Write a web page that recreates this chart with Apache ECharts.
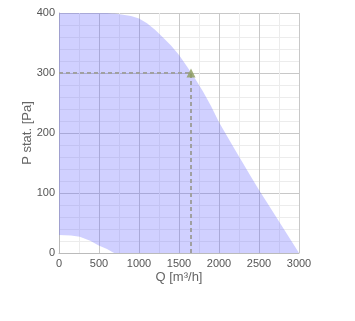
<!DOCTYPE html>
<html>
<head>
<meta charset="utf-8">
<script src="https://cdn.jsdelivr.net/npm/echarts@6/dist/echarts.min.js"></script>
<style>
  html, body { margin: 0; padding: 0; background: #fff; }
  #chart { width: 355px; height: 321px; }
</style>
</head>
<body>
<div id="chart"></div>
<script>
// flow rate points (m³/h) shared by both curves
const flowQ = [0, 150, 260, 390, 490, 600, 660, 690, 800, 900, 1000, 1100, 1200, 1300, 1400, 1500, 1600, 1700, 1800, 1900, 2000, 2200, 2400, 2500, 2600, 2800, 3000]
// upper edge of the fan range (Pa)
const upperP = [400, 400, 400, 400, 400, 400, 399, 399, 397, 395, 391, 383, 372, 359, 346, 330, 311, 291, 269, 245, 218, 172, 127, 105, 84, 42, 0]
// lower edge of the fan range (Pa)
const lowerP = [30, 29, 27, 20.5, 13, 6.5, 2, 0, 0, 0, 0, 0, 0, 0, 0, 0, 0, 0, 0, 0, 0, 0, 0, 0, 0, 0, 0]
// operating point
const opQ = 1650
const opP = 300

const xTicks = [0, 500, 1000, 1500, 2000, 2500, 3000]
const yTicks = [0, 100, 200, 300, 400]

const chart = echarts.init(document.getElementById('chart'))

const labelStyle = { color: '#555', fontSize: 11, fontFamily: 'Liberation Sans, Arial, sans-serif' }
const nameStyle = { color: '#666', fontSize: 13, fontFamily: 'Liberation Sans, Arial, sans-serif' }

// band between lower and upper edge, drawn as one polygon
const renderBand = (params, api) => {
    const top = flowQ.map((q, i) => api.coord([q, upperP[i]]))
    const bottom = flowQ.map((q, i) => api.coord([q, lowerP[i]])).reverse()
    return {
        type: 'polygon',
        shape: { points: top.concat(bottom) },
        style: { fill: 'rgba(100, 100, 255, 0.3)' },
        silent: true
    }
}

const option = {
    animation: false,
    grid: { left: 59, right: 56, top: 13, bottom: 68 },
    xAxis: {
        type: 'value',
        min: xTicks[0],
        max: xTicks[xTicks.length - 1],
        interval: xTicks[1] - xTicks[0],
        name: 'Q [m³/h]',
        nameLocation: 'middle',
        nameGap: 18,
        nameMoveOverlap: false,
        nameTextStyle: nameStyle,
        axisLine: { show: true, lineStyle: { color: '#bbb' } },
        axisTick: { show: false },
        axisLabel: Object.assign({ margin: 5, formatter: v => String(v) }, labelStyle),
        splitLine: { show: true, lineStyle: { color: '#c8c8c8' } },
        minorTick: { show: false, splitNumber: 2 },
        minorSplitLine: { show: true, lineStyle: { color: '#ececec' } }
    },
    yAxis: {
        type: 'value',
        min: yTicks[0],
        max: yTicks[yTicks.length - 1],
        interval: yTicks[1] - yTicks[0],
        name: 'P stat. [Pa]',
        nameLocation: 'middle',
        nameGap: 25,
        nameMoveOverlap: false,
        nameTextStyle: nameStyle,
        axisLine: { show: true, lineStyle: { color: '#bbb' } },
        axisTick: { show: false },
        axisLabel: Object.assign({ margin: 4, formatter: v => String(v) }, labelStyle),
        splitLine: { show: true, lineStyle: { color: '#c8c8c8' } },
        minorTick: { show: false, splitNumber: 5 },
        minorSplitLine: { show: true, lineStyle: { color: '#ececec' } }
    },
    series: [
        {
            type: 'custom',
            renderItem: renderBand,
            data: [[0, 0]],
            clip: true,
            silent: true,
            z: 1
        },
        {
            // dashed guide lines to the operating point
            type: 'line',
            data: [[0, opP], [opQ, opP], [opQ, 0]],
            symbol: 'none',
            lineStyle: { color: '#a0a0a0', width: 2, type: [4, 3] },
            z: 3
        },
        {
            type: 'scatter',
            data: [[opQ, opP]],
            symbol: 'triangle',
            symbolSize: 9,
            itemStyle: { color: '#8c9c5c' },
            z: 4
        }
    ]
}

chart.setOption(option)

window.addEventListener('resize', () => {
    chart.resize()
})
</script>
</body>
</html>
